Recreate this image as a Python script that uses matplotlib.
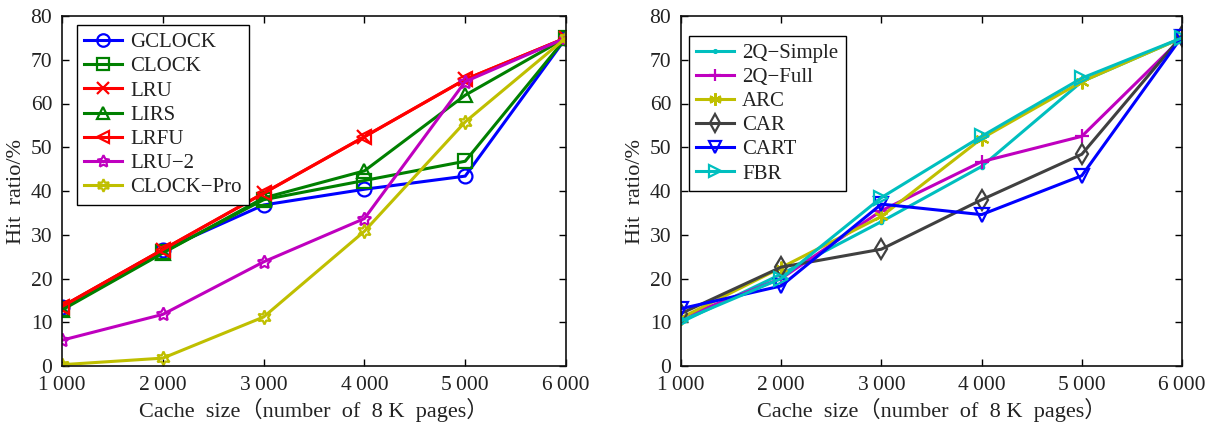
import matplotlib
matplotlib.use('Agg')
import matplotlib.pyplot as plt

plt.rcParams['font.family'] = ['Liberation Serif', 'DejaVu Serif', 'Noto Sans CJK SC']
plt.rcParams['font.size'] = 15.5
plt.rcParams['mathtext.fontset'] = 'stix'

sizes = [1000, 2000, 3000, 4000, 5000, 6000]
size_labels = ['1\u2009000', '2\u2009000', '3\u2009000', '4\u2009000', '5\u2009000', '6\u2009000']

# left panel
gclock = [13.5, 26.5, 36.8, 40.4, 43.4, 75.0]
clock = [13.0, 26.0, 38.0, 42.4, 46.8, 75.0]
lru = [13.6, 26.6, 39.5, 52.4, 65.5, 75.0]
lirs = [12.8, 25.8, 38.4, 44.6, 61.9, 75.0]
lrfu = [13.6, 26.6, 39.5, 52.4, 65.5, 75.0]
lru2 = [5.9, 11.8, 23.8, 33.7, 65.0, 75.0]
clock_pro = [0.3, 1.8, 11.2, 30.8, 55.8, 75.0]

# right panel
q2_simple = [10.0, 21.0, 33.0, 45.6, 65.0, 75.0]
q2_full = [11.0, 20.0, 35.5, 46.7, 52.5, 75.0]
arc = [11.0, 22.5, 34.2, 52.0, 65.0, 75.0]
car = [12.0, 22.6, 26.7, 38.0, 48.4, 75.5]
cart = [13.1, 18.3, 37.0, 34.6, 43.5, 75.3]
fbr = [10.3, 20.0, 38.5, 52.5, 65.8, 75.0]

blue = (0, 0, 1)
green = (0, 0.5, 0)
red = (1, 0, 0)
magenta = (0.75, 0, 0.75)
yellow = (0.75, 0.75, 0)
cyan = (0, 0.75, 0.75)
dark = (0.25, 0.25, 0.25)

fig = plt.figure(figsize=(12.2, 4.28), dpi=100)
ax1 = fig.add_axes([62 / 1220, 62 / 428, 504 / 1220, 350 / 428])
ax2 = fig.add_axes([681 / 1220, 62 / 428, 501 / 1220, 350 / 428])

kw = dict(lw=2.2, ms=10, mfc='none', mew=1.6)
ax1.plot(sizes, gclock, color=blue, marker='o', label='GCLOCK', **kw)
ax1.plot(sizes, clock, color=green, marker='s', label='CLOCK', **kw)
ax1.plot(sizes, lru, color=red, marker='x', label='LRU', **kw)
ax1.plot(sizes, lirs, color=green, marker='^', label='LIRS', **kw)
ax1.plot(sizes, lrfu, color=red, marker='<', label='LRFU', **kw)
ax1.plot(sizes, lru2, color=magenta, marker=(5, 1, 0), label='LRU\u22122', **kw)
ax1.plot(sizes, clock_pro, color=yellow, marker=(6, 1, 0), label='CLOCK\u2212Pro', **kw)

ax2.plot(sizes, q2_simple, color=cyan, marker='.', label='2Q\u2212Simple', lw=2.2, ms=6)
ax2.plot(sizes, q2_full, color=magenta, marker='+', label='2Q\u2212Full', **kw)
ax2.plot(sizes, arc, color=yellow, marker=(6, 2, 0), label='ARC', **kw)
ax2.plot(sizes, car, color=dark, marker='d', label='CAR', **kw)
ax2.plot(sizes, cart, color=blue, marker='v', label='CART', **kw)
ax2.plot(sizes, fbr, color=cyan, marker='>', label='FBR', **kw)

for ax in (ax1, ax2):
    ax.set_xlim(1000, 6000)
    ax.set_ylim(0, 80)
    ax.set_xticks(sizes)
    ax.set_xticklabels(size_labels)
    ax.set_yticks(range(0, 81, 10))
    ax.tick_params(direction='in', length=5, width=1, top=True, right=True,
                   labelsize=15.5, colors='black', labelcolor='#222222', pad=7)
    for s in ax.spines.values():
        s.set_linewidth(1.2)
        s.set_color('#111111')
    ax.set_xlabel('Cache  size\uff08number  of  8 K  pages\uff09', fontsize=16,
                  color='#222222', labelpad=2)
    ax.set_ylabel('Hit  ratio/%', fontsize=16, color='#222222', labelpad=3)

leg_kw = dict(loc='upper left', fancybox=False, edgecolor='black', framealpha=1,
              fontsize=15, handlelength=1.8, labelspacing=0.22, borderpad=0.35,
              handletextpad=0.4, borderaxespad=0, markerscale=0.9)
l1 = ax1.legend(bbox_to_anchor=(0.03, 0.973), **leg_kw)
l2 = ax2.legend(bbox_to_anchor=(0.016, 0.943), **leg_kw)
for l in (l1, l2):
    l.get_frame().set_linewidth(1.0)
    for t in l.get_texts():
        t.set_color('#222222')

fig.savefig('out.png', dpi=100)
